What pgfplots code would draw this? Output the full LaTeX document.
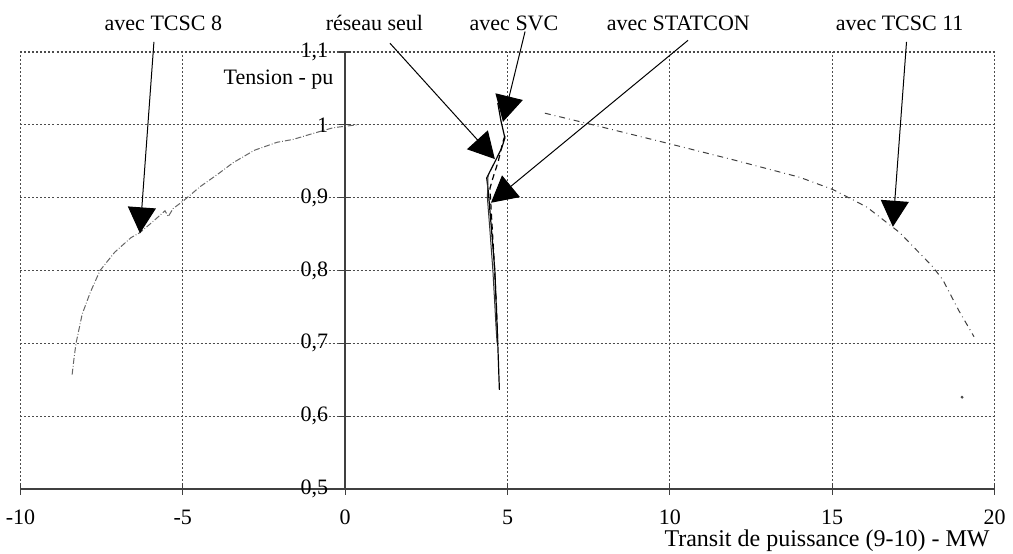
\documentclass[border=0pt]{standalone}
\usepackage{fontspec}
\setmainfont{Liberation Serif}
\usepackage{pgfplots}
\pgfplotsset{compat=1.18}
\usetikzlibrary{arrows.meta}

\begin{document}
\begin{tikzpicture}
\begin{axis}[
  scale only axis,
  width=487pt, height=218.5pt,
  xmin=-10, xmax=20, ymin=0.5, ymax=1.1,
  enlargelimits=false,
  axis x line=bottom, axis y line=center,
  hide obscured x ticks=false, hide obscured y ticks=false,
  axis line style={-, black!75, line width=0.8pt},
  xtick={-10,-5,0,5,10,15,20},
  xticklabels={-10,-5,0,5,10,15,20},
  ytick={0.5,0.6,0.7,0.8,0.9,1.0,1.1},
  yticklabels={{0,5},{0,6},{0,7},{0,8},{0,9},{1},{1,1}},
  tick align=center,
  major tick length=6pt,
  tick style={black!75, line width=0.6pt},
  ticklabel style={font=\fontsize{11}{13}\selectfont},
  xticklabel style={anchor=north, yshift=-4pt},
  yticklabel style={anchor=east, xshift=-2pt},
  xmajorgrids=true, ymajorgrids=true,
  major grid style={dash pattern=on 1pt off 1pt, black!70, line width=0.6pt},
  clip=false,
]
\coordinate (bl) at (rel axis cs:0,0);
\coordinate (tr) at (rel axis cs:1,1);

% avec TCSC 8
\addplot[black!60, densely dash dot, line width=0.5pt] coordinates {
(-8.41,0.657) (-8.35,0.68) (-8.29,0.70) (-8.1,0.74) (-7.85,0.77) (-7.55,0.80)
(-7.1,0.825) (-6.6,0.845) (-6.32,0.852) (-5.9,0.868) (-5.55,0.882) (-5.45,0.874)
(-5.3,0.885) (-5.0,0.895) (-4.47,0.915) (-3.9,0.933) (-3.45,0.948) (-2.8,0.965)
(-2.1,0.976) (-1.6,0.980) (-1.0,0.988) (-0.37,0.996) (0.36,1.0)
};
% avec TCSC 11
\addplot[black!75, dash dot, line width=0.5pt] coordinates {
(6.15,1.016) (7.54,1.001) (9.9,0.975) (11.95,0.952) (14.0,0.928) (15.03,0.911)
(16.07,0.887) (17.08,0.852) (18.1,0.805) (18.41,0.787) (18.9,0.745) (19.37,0.709)
};
\addplot[only marks, mark=*, mark size=0.5pt, black!70] coordinates {(19.0,0.626)};
% reseau seul
\addplot[black, line width=0.6pt] coordinates {
(4.70,1.030) (4.80,1.005) (4.92,0.982) (4.82,0.968) (4.61,0.949) (4.46,0.936)
(4.36,0.927) (4.41,0.908) (4.50,0.86) (4.61,0.80) (4.70,0.70) (4.75,0.636)
};
% avec SVC
\addplot[black, densely dashed, line width=0.6pt] coordinates {
(4.92,0.985) (4.86,0.977) (4.71,0.949) (4.55,0.927) (4.46,0.913) (4.50,0.88)
(4.58,0.82) (4.66,0.75) (4.70,0.70)
};
% avec STATCON
\addplot[black!80, line width=0.5pt] coordinates {
(4.40,0.930) (4.38,0.900) (4.45,0.86) (4.55,0.80) (4.65,0.72) (4.68,0.70)
};

\node[anchor=east, inner sep=0pt, font=\fontsize{11}{13}\selectfont] at (axis cs:-0.35,1.062) {Tension - pu};
\node[anchor=east, inner sep=0pt, font=\fontsize{12}{14}\selectfont] at (axis cs:19.86,0.4286) {Transit de puissance (9-10) - MW};

\tikzset{lab/.style={anchor=base, inner sep=0pt, font=\fontsize{11}{13}\selectfont},
         arr/.style={-{Triangle[length=13pt,width=14pt]}, black, line width=0.5pt}}
\node[lab] at (axis cs:-5.60,1.129) {avec TCSC 8};
\node[lab] at (axis cs:0.90,1.129) {réseau seul};
\node[lab] at (axis cs:5.20,1.129) {avec SVC};
\node[lab] at (axis cs:10.26,1.129) {avec STATCON};
\node[lab] at (axis cs:17.08,1.129) {avec TCSC 11};

\draw[arr] (axis cs:-5.89,1.114) -- (axis cs:-6.32,0.851);
\draw[arr] (axis cs:1.38,1.112) -- (axis cs:4.61,0.953);
\draw[arr] (axis cs:5.54,1.128) -- (axis cs:4.86,1.004);
\draw[arr] (axis cs:10.56,1.116) -- (axis cs:4.49,0.893);
\draw[arr] (axis cs:17.29,1.114) -- (axis cs:16.87,0.860);
\end{axis}
\pgfresetboundingbox
\path ([xshift=-10.25pt,yshift=-32.5pt]bl) rectangle ([xshift=9.25pt,yshift=26pt]tr);
\end{tikzpicture}
\end{document}
